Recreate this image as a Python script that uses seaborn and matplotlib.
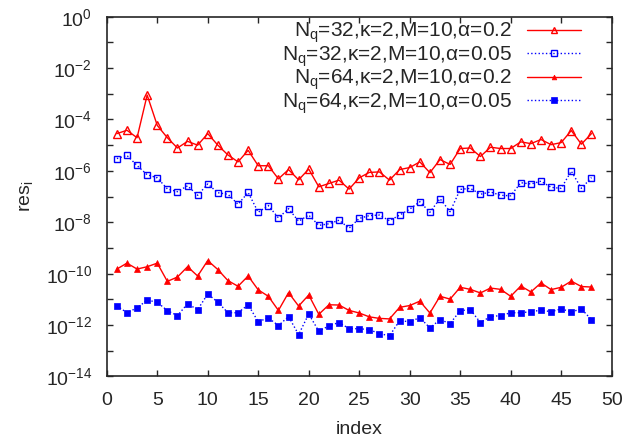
import numpy as np
import pandas as pd
import matplotlib
matplotlib.use("Agg")
import matplotlib.pyplot as plt
import seaborn as sns
from matplotlib.ticker import FixedLocator, LogFormatterSciNotation, NullFormatter

# as log10(res_i)
index = list(range(1, 49))

log_n32_a02 = [-4.55, -4.42, -4.71, -3.05, -4.23, -4.71, -5.11, -4.85, -5.00, -4.55,
               -5.00, -5.38, -5.65, -5.20, -5.80, -5.80, -6.31, -5.95, -6.35, -5.93,
               -6.62, -6.49, -6.36, -6.71, -6.27, -6.06, -6.04, -6.36, -5.95, -5.87,
               -5.65, -6.07, -5.56, -5.75, -5.13, -5.11, -5.44, -5.08, -5.13, -5.13,
               -4.87, -4.94, -4.78, -4.98, -4.90, -4.43, -4.96, -4.55]
log_n32_a005 = [-5.52, -5.40, -5.79, -6.15, -6.27, -6.70, -6.81, -6.58, -6.95, -6.51,
                -6.85, -6.91, -7.30, -6.84, -7.61, -7.35, -7.83, -7.47, -7.96, -7.72,
                -8.12, -8.06, -7.92, -8.23, -7.85, -7.74, -7.72, -7.94, -7.72, -7.49,
                -7.20, -7.61, -7.08, -7.59, -6.72, -6.68, -6.91, -6.82, -6.95, -6.97,
                -6.46, -6.51, -6.40, -6.64, -6.68, -6.01, -6.68, -6.26]
log_n64_a02 = [-9.82, -9.59, -9.82, -9.73, -9.59, -10.30, -10.13, -9.73, -10.09, -9.49,
               -9.84, -10.27, -10.49, -10.09, -10.63, -10.88, -11.43, -10.74, -11.26, -10.83,
               -11.58, -11.21, -11.22, -11.43, -11.53, -11.68, -11.74, -11.76, -11.31, -11.24,
               -11.07, -11.53, -10.88, -10.99, -10.53, -10.61, -10.75, -10.56, -10.61, -10.88,
               -10.48, -10.71, -10.36, -10.62, -10.53, -10.29, -10.50, -10.52]
log_n64_a005 = [-11.25, -11.52, -11.33, -11.03, -11.11, -11.44, -11.63, -11.17, -11.40, -10.79,
                -11.11, -11.52, -11.52, -11.21, -11.87, -11.72, -12.02, -11.67, -12.37, -11.57,
                -12.24, -12.03, -11.90, -12.14, -12.14, -12.18, -12.33, -12.42, -11.83, -11.87,
                -11.71, -12.11, -11.79, -11.94, -11.44, -11.40, -11.90, -11.67, -11.63, -11.52,
                -11.52, -11.48, -11.42, -11.48, -11.37, -11.49, -11.37, -11.79]

labels = [r"N$_q$=32,κ=2,M=10,α=0.2",
          r"N$_q$=32,κ=2,M=10,α=0.05",
          r"N$_q$=64,κ=2,M=10,α=0.2",
          r"N$_q$=64,κ=2,M=10,α=0.05"]

sns.set_style("ticks")
plt.rcParams["font.family"] = ["Liberation Sans", "DejaVu Sans"]
plt.rcParams["mathtext.fontset"] = "custom"
plt.rcParams["mathtext.rm"] = "Liberation Sans"
plt.rcParams["mathtext.it"] = "Liberation Sans"
plt.rcParams["mathtext.default"] = "regular"

fig = plt.figure(figsize=(6.28, 4.45), dpi=100)
ax = fig.add_axes([0.170, 0.154, 0.804, 0.8085])

styles = [
    dict(color="red", marker="^", linestyle="-", markersize=5.5, mfc="none", mec="red", mew=1.0),
    dict(color="blue", marker="s", linestyle=":", markersize=4.5, mfc="none", mec="blue", mew=1.0),
    dict(color="red", marker="^", linestyle="-", markersize=4.0, mec="red", mew=0.5),
    dict(color="blue", marker="s", linestyle=":", markersize=4.5, mec="blue", mew=0.5),
]
series = [log_n32_a02, log_n32_a005, log_n64_a02, log_n64_a005]

for lab, vals, st in zip(labels, series, styles):
    df = pd.DataFrame({"index": index, "res": 10.0 ** np.array(vals)})
    sns.lineplot(data=df, x="index", y="res", ax=ax, label=lab, linewidth=1.0, **st)

ax.set_yscale("log")
ax.set_xlim(0, 50)
ax.set_ylim(1e-14, 1)
ax.set_xticks(range(0, 51, 5))
ax.yaxis.set_major_locator(FixedLocator([10.0 ** -k for k in range(0, 15, 2)]))
ax.yaxis.set_minor_locator(FixedLocator([10.0 ** -k for k in range(1, 15, 2)]))
ax.yaxis.set_major_formatter(LogFormatterSciNotation())
ax.yaxis.set_minor_formatter(NullFormatter())

ax.tick_params(which="both", direction="in", top=True, right=True,
               length=4, width=1.0, labelsize=14)
ax.tick_params(axis="x", pad=11)
ax.tick_params(axis="y", pad=10.5)
for s in ax.spines.values():
    s.set_linewidth(1.2)

ax.set_xlabel("index", fontsize=14, labelpad=9)
ax.set_ylabel(r"res$_i$", fontsize=14, labelpad=8)

ax.legend(loc="upper right", frameon=False, markerfirst=False, fontsize=15,
          handlelength=2.55, handletextpad=0.75, labelspacing=-0.05,
          bbox_to_anchor=(0.955, 1.012), borderaxespad=0.0, numpoints=1,
          markerscale=0.85)

fig.savefig("out.png", dpi=100)
